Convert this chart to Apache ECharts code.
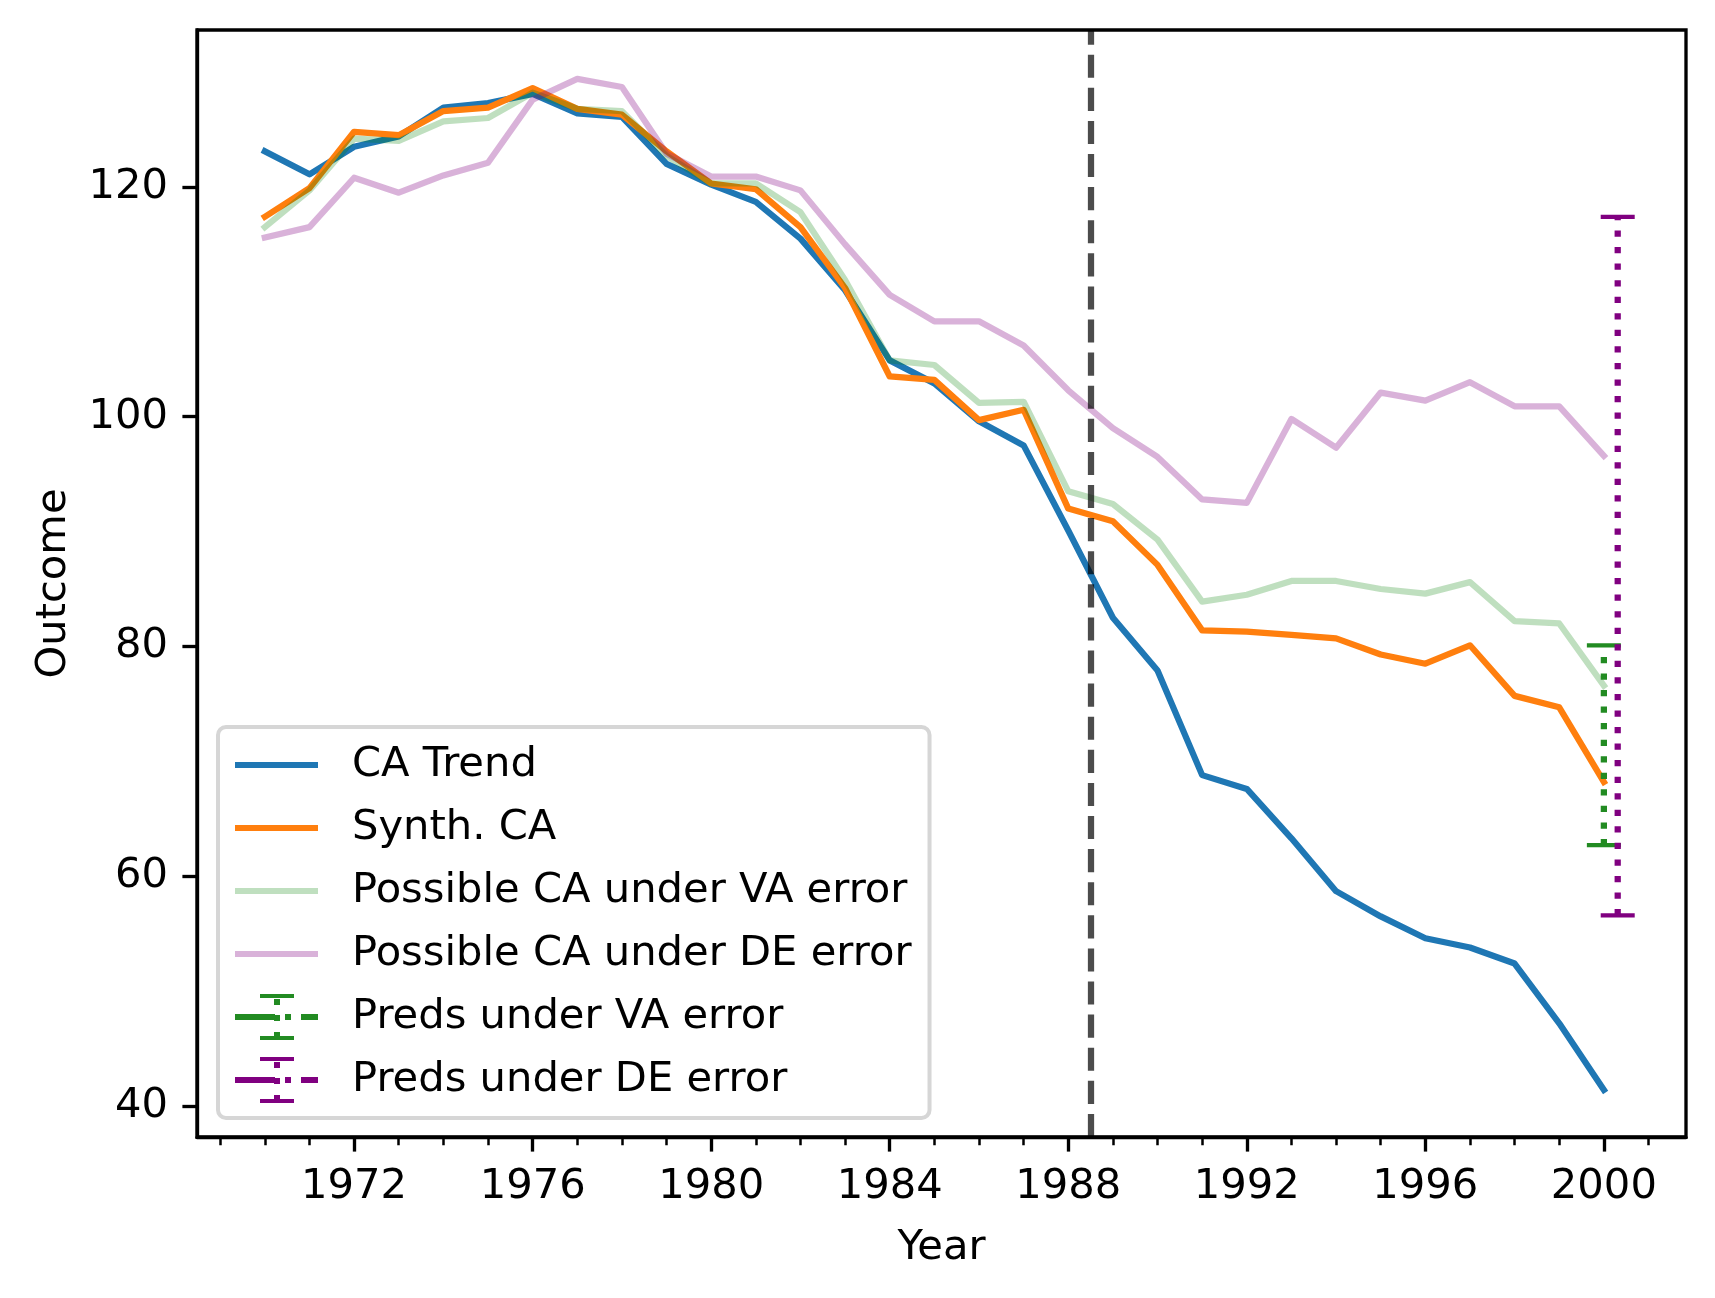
<!DOCTYPE html>
<html>
<head>
<meta charset="utf-8">
<script src="https://cdn.jsdelivr.net/npm/echarts@6/dist/echarts.min.js"></script>
<style>
  html, body { margin: 0; padding: 0; background: #fff; }
  #chart { width: 1715px; height: 1298px; }
</style>
</head>
<body>
<div id="chart"></div>
<script>
// values
const years = [1970, 1971, 1972, 1973, 1974, 1975, 1976, 1977, 1978, 1979, 1980,
  1981, 1982, 1983, 1984, 1985, 1986, 1987, 1988, 1989, 1990,
  1991, 1992, 1993, 1994, 1995, 1996, 1997, 1998, 1999, 2000]
const caTrend = [123.1, 121.1, 123.5, 124.4, 126.9, 127.3, 128.1, 126.4, 126.1, 122.0, 120.2,
  118.7, 115.5, 111.0, 104.9, 102.9, 99.6, 97.5, 90.1, 82.5, 77.9,
  68.8, 67.6, 63.3, 58.7, 56.5, 54.6, 53.8, 52.4, 47.2, 41.4]
const synthCa = [117.4, 119.9, 124.8, 124.5, 126.6, 126.9, 128.6, 126.8, 126.3, 123.1, 120.3,
  119.8, 116.5, 111.2, 103.5, 103.2, 99.7, 100.6, 92.0, 90.9, 87.1,
  81.4, 81.3, 81.0, 80.7, 79.3, 78.5, 80.1, 75.7, 74.7, 68.2]
const vaCa = [116.5, 119.7, 124.2, 124.0, 125.7, 126.0, 128.2, 126.8, 126.6, 122.7, 120.3,
  120.3, 117.8, 111.9, 104.9, 104.5, 101.2, 101.3, 93.5, 92.4, 89.3,
  83.9, 84.5, 85.7, 85.7, 85.0, 84.6, 85.6, 82.2, 82.0, 76.6]
const deCa = [115.6, 116.5, 120.8, 119.5, 121.0, 122.1, 127.6, 129.4, 128.7, 122.9, 120.9,
  120.9, 119.7, 115.0, 110.6, 108.3, 108.3, 106.2, 102.3, 99.0, 96.5,
  92.8, 92.5, 99.8, 97.3, 102.1, 101.4, 103.0, 100.9, 100.9, 96.6]

// [x, low, high]
const vaPred = [[2000, 62.7, 80.1]]
const dePred = [[2000.31, 56.6, 117.4]]
const treatYear = 1988.5

const xMajor = [1972, 1976, 1980, 1984, 1988, 1992, 1996, 2000]
const xMinor = [1969, 1970, 1971, 1972, 1973, 1974, 1975, 1976, 1977, 1978, 1979, 1980,
  1981, 1982, 1983, 1984, 1985, 1986, 1987, 1988, 1989, 1990, 1991, 1992, 1993, 1994,
  1995, 1996, 1997, 1998, 1999, 2000, 2001]
const yTicks = [40, 60, 80, 100, 120]

const FONT = 'DejaVu Sans'
const FS = 41.67
const LW = 6.25

const lineIcon = 'path://M0,0L0.1,0L0.1,0.1Z M114,46L113.9,46L113.9,45.9Z M2,20L85,20L85,26L2,26Z'
const errIcon = 'path://M0,0L0.1,0L0.1,0.1Z M114,46L113.9,46L113.9,45.9Z ' +
  'M2,20L42,20L42,26L2,26Z M52,20L58,20L58,26L52,26Z M68,20L85,20L85,26L68,26Z ' +
  'M41,5L47,5L47,11L41,11Z M41,21L47,21L47,27L41,27Z M41,38L47,38L47,44L41,44Z ' +
  'M27,0L61,0L61,4L27,4Z M27,42L61,42L61,46L27,46Z'

const pairs = vals => years.map((y, i) => [y, vals[i]])

function lineSeries(name, vals, color) {
  return {
    name, type: 'line', data: pairs(vals), symbol: 'none', smooth: false,
    color, z: 2,
    lineStyle: { color, width: LW, cap: 'square', join: 'round' },
    emphasis: { disabled: true },
  }
}

function errSeries(name, data, color) {
  return {
    name, type: 'custom', data, z: 3, clip: false,
    itemStyle: { color },
    encode: { x: 0, y: [1, 2] },
    renderItem(params, api) {
      const lo = api.coord([api.value(0), api.value(1)])
      const hi = api.coord([api.value(0), api.value(2)])
      const cap = 17
      return {
        type: 'group',
        children: [
          {
            type: 'line',
            shape: { x1: lo[0], y1: lo[1], x2: hi[0], y2: hi[1] },
            style: { stroke: color, lineWidth: LW, lineDash: [6.25, 10.3], lineCap: 'butt' },
          },
          {
            type: 'line',
            shape: { x1: lo[0] - cap, y1: lo[1], x2: lo[0] + cap, y2: lo[1] },
            style: { stroke: color, lineWidth: 4.2 },
          },
          {
            type: 'line',
            shape: { x1: hi[0] - cap, y1: hi[1], x2: hi[0] + cap, y2: hi[1] },
            style: { stroke: color, lineWidth: 4.2 },
          },
        ],
      }
    },
  }
}

const chart = echarts.init(document.getElementById('chart'), null, { renderer: 'canvas' })

chart.setOption({
  animation: false,
  backgroundColor: '#fff',
  textStyle: { fontFamily: FONT, color: '#000' },
  grid: {
    left: 197, right: 29, top: 30, bottom: 161,
    containLabel: false, outerBoundsMode: 'none',
    show: true, borderColor: '#000', borderWidth: 3.33, backgroundColor: 'transparent',
  },
  legend: {
    orient: 'vertical',
    left: 218, top: 727,
    padding: [15, 18, 15, 15],
    itemWidth: 114, itemHeight: 46, itemGap: 17,
    backgroundColor: 'rgba(255,255,255,0.8)',
    borderColor: '#d6d6d6', borderWidth: 4, borderRadius: 8,
    itemStyle: { borderWidth: 0 },
    textStyle: { fontFamily: FONT, fontSize: FS, color: '#000', lineHeight: 46 },
    selectedMode: false,
    data: [
      { name: 'CA Trend', icon: lineIcon },
      { name: 'Synth. CA', icon: lineIcon },
      { name: 'Possible CA under VA error', icon: lineIcon },
      { name: 'Possible CA under DE error', icon: lineIcon },
      { name: 'Preds under VA error', icon: errIcon },
      { name: 'Preds under DE error', icon: errIcon },
    ],
  },
  xAxis: [
    {
      type: 'value', min: 1968.48, max: 2001.84,
      name: 'Year', nameLocation: 'middle', nameGap: 90,
      nameTextStyle: { fontFamily: FONT, fontSize: FS, color: '#000' },
      axisLine: { show: true, lineStyle: { color: '#000', width: 3.33 } },
      axisTick: { show: true, inside: false, length: 14.6, customValues: xMajor,
        lineStyle: { color: '#000', width: 3.33 } },
      axisLabel: { show: true, customValues: xMajor, margin: 29,
        fontFamily: FONT, fontSize: FS, color: '#000', formatter: v => String(v) },
      splitLine: { show: false },
    },
    {
      type: 'value', min: 1968.48, max: 2001.84, gridIndex: 0, position: 'bottom',
      axisLine: { show: false },
      axisTick: { show: true, inside: false, length: 8.3, customValues: xMinor,
        lineStyle: { color: '#000', width: 2.5 } },
      axisLabel: { show: false },
      splitLine: { show: false },
    },
  ],
  yAxis: {
    type: 'value', min: 37.3, max: 133.66,
    name: 'Outcome', nameLocation: 'middle', nameGap: 122, nameRotate: 90,
    nameTextStyle: { fontFamily: FONT, fontSize: FS, color: '#000' },
    axisLine: { show: true, lineStyle: { color: '#000', width: 3.33 } },
    axisTick: { show: true, inside: false, length: 14.6, customValues: yTicks,
      lineStyle: { color: '#000', width: 3.33 } },
    axisLabel: { show: true, customValues: yTicks, margin: 29,
      fontFamily: FONT, fontSize: FS, color: '#000' },
    splitLine: { show: false },
  },
  series: [
    lineSeries('CA Trend', caTrend, '#1f77b4'),
    lineSeries('Synth. CA', synthCa, '#ff7f0e'),
    lineSeries('Possible CA under VA error', vaCa, 'rgba(0,128,0,0.25)'),
    lineSeries('Possible CA under DE error', deCa, 'rgba(128,0,128,0.3)'),
    errSeries('Preds under VA error', vaPred, '#228b22'),
    errSeries('Preds under DE error', dePred, '#800080'),
    {
      name: 'treatment', type: 'line', data: [], z: 4,
      markLine: {
        silent: true, symbol: 'none', animation: false,
        label: { show: false },
        lineStyle: { color: 'rgba(0,0,0,0.7)', width: LW, type: [23.1, 10] },
        data: [{ xAxis: treatYear }],
      },
    },
  ],
})
</script>
</body>
</html>
